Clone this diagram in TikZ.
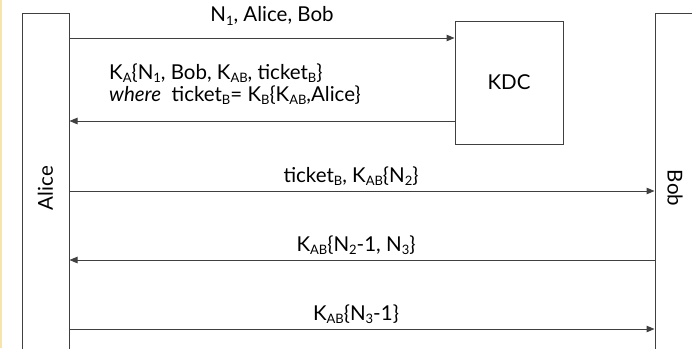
\documentclass[tikz,border=0pt]{standalone}
\usepackage{fontspec}
\setmainfont{Lato}
\usetikzlibrary{arrows.meta}
\definecolor{edge}{HTML}{404040}
\definecolor{strip}{RGB}{247,228,172}
\newcommand{\sbs}[1]{\raisebox{-0.3ex}{\fontsize{13}{13}\selectfont #1}}
\begin{document}
\begin{tikzpicture}[x=1pt,y=-1pt,
  font=\fontsize{20.5}{22}\selectfont,
  box/.style={draw=edge, line width=1pt, rectangle, inner sep=0pt},
  msg/.style={draw=edge, line width=1pt, -{Triangle[length=8pt,width=6.5pt]}},
  lbl/.style={inner sep=0pt, text=black}]
\useasboundingbox (0,0) rectangle (692,348);
\fill[strip] (0,0) rectangle (1.5,348);
% lifeline boxes
\node[box, minimum width=47pt, minimum height=360pt] (alicebox) at (45.5,193) {};
\node[box, minimum width=80pt, minimum height=360pt] (bobbox) at (695,193) {};
\node[box, minimum width=108pt, minimum height=123pt] (kdc) at (509,82.5) {KDC};
\node[lbl, rotate=90] (alice) at (45.5,188) {Alice};
\node[lbl, rotate=-90] (bob) at (675,188) {Bob};
% message rows
\coordinate (y1) at (0,38);
\coordinate (y2) at (0,121);
\coordinate (y3) at (0,191);
\coordinate (y4) at (0,260);
\coordinate (y5) at (0,329);
\draw[msg] (alicebox.east |- y1) -- (kdc.west |- y1);
\draw[msg] (kdc.west |- y2) -- (alicebox.east |- y2);
\draw[msg] (alicebox.east |- y3) -- (bobbox.west |- y3);
\draw[msg] (bobbox.west |- y4) -- (alicebox.east |- y4);
\draw[msg] (alicebox.east |- y5) -- (bobbox.west |- y5);
% labels
\node[lbl] (m1) at (272,16) {N\sbs{1}, Alice, Bob};
\node[lbl, align=left, anchor=west] (m2) at (109,84)
  {K\sbs{A}\{N\sbs{1}, Bob, K\sbs{AB}, ticket\sbs{B}\}\\
   \textit{where}~~ticket\sbs{B}= K\sbs{B}\{K\sbs{AB},Alice\}};
\node[lbl] (m3) at (351,176) {ticket\sbs{B}, K\sbs{AB}\{N\sbs{2}\}};
\node[lbl] (m4) at (356,245) {K\sbs{AB}\{N\sbs{2}-1, N\sbs{3}\}};
\node[lbl] (m5) at (356,314) {K\sbs{AB}\{N\sbs{3}-1\}};
\end{tikzpicture}
\end{document}
